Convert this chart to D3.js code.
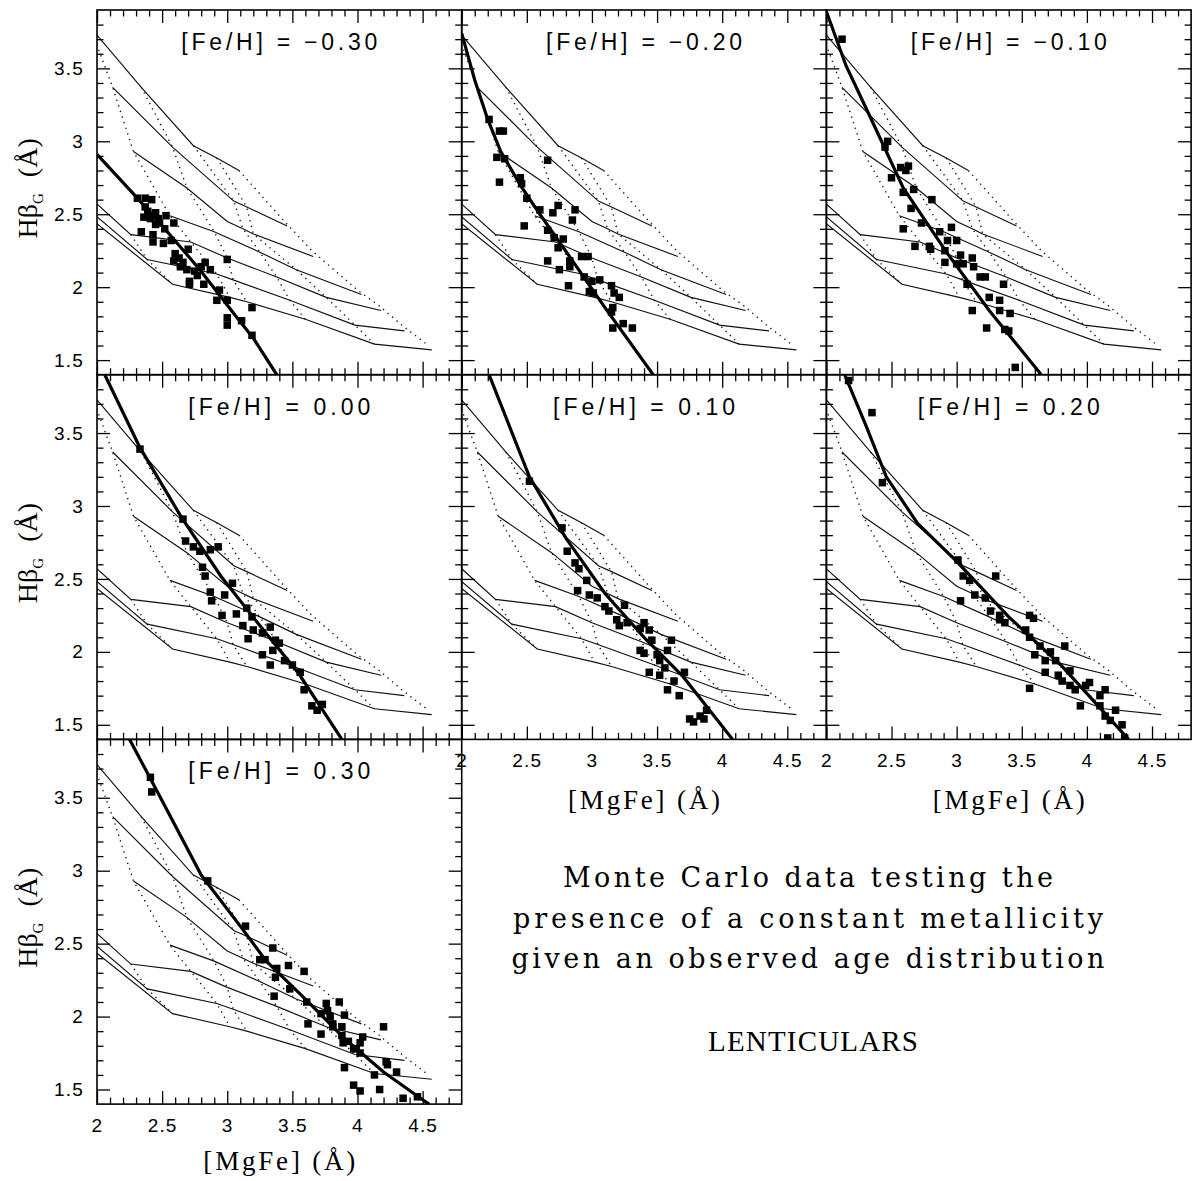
<!DOCTYPE html>
<html><head><meta charset="utf-8">
<script src="https://cdn.jsdelivr.net/npm/d3@7"></script>
<style>body{margin:0;background:#fff}svg{display:block}</style>
</head><body>
<svg id="c" width="1194" height="1181"></svg>
<script>
// ---------------- data ----------------
const fehLabels = ["−0.30","−0.20","−0.10","0.00","0.10","0.20","0.30"];
const xMajor = [2,2.5,3,3.5,4,4.5];
const xTickLabels = ["2","2.5","3","3.5","4","4.5"];
const xMinor = [2.1,2.2,2.3,2.4,2.6,2.7,2.8,2.9,3.1,3.2,3.3,3.4,3.6,3.7,3.8,3.9,4.1,4.2,4.3,4.4,4.6,4.7];
const yMajor = [1.5,2,2.5,3,3.5];
const yTickLabels = ["1.5","2","2.5","3","3.5"];
const yMinor = [1.6,1.7,1.8,1.9,2.1,2.2,2.3,2.4,2.6,2.7,2.8,2.9,3.1,3.2,3.3,3.4,3.6,3.7,3.8];

// model grid: solid lines (constant age)
const solidA = [[1.95,3.78],[2.34,3.37],[2.74,2.97],[2.92,2.885],[3.09,2.80]];
const solidB = [[2.12,3.37],[2.58,2.96],[3.05,2.59],[3.15,2.55],[3.46,2.42]];
const solidC = [[2.28,2.93],[2.69,2.68],[3.0,2.45],[3.12,2.40],[3.2,2.365],[3.66,2.21]];
const solidD = [[2.56,2.49],[2.9,2.38],[3.25,2.24],[3.53,2.12],[4.03,1.95]];
const solidE = [[1.95,2.61],[2.26,2.36],[2.72,2.31],[3.0,2.20],[3.38,2.07],[3.76,1.93],[4.18,1.84]];
const solidF = [[1.95,2.52],[2.385,2.19],[2.92,2.09],[3.045,2.05],[3.48,1.91],[3.98,1.74],[4.36,1.70]];
const solidG = [[1.95,2.47],[2.58,2.02],[3.02,1.93],[3.15,1.90],[3.6,1.78],[4.13,1.61],[4.57,1.57]];
// model grid: dotted lines (constant metallicity)
const dotM0 = [[2.26,2.36],[2.385,2.19],[2.58,2.02]];
const dotM1 = [[1.95,3.78],[2.12,3.37],[2.28,2.93],[2.56,2.49],[2.72,2.31],[2.92,2.09],[3.02,1.93]];
const dotM2 = [[2.34,3.37],[2.58,2.96],[2.69,2.68],[2.9,2.38],[3.0,2.20],[3.045,2.05],[3.15,1.90]];
const dotM3 = [[2.74,2.97],[3.05,2.59],[3.12,2.40],[3.25,2.24],[3.38,2.07],[3.48,1.91],[3.6,1.78]];
const dotM4 = [[2.92,2.885],[3.15,2.55],[3.2,2.365],[3.53,2.12],[3.76,1.93],[3.98,1.74],[4.13,1.61]];
const dotM5 = [[3.09,2.80],[3.44,2.45],[3.65,2.25],[4.00,1.98],[4.17,1.87],[4.34,1.74],[4.53,1.61]];

// thick constant-metallicity tracks
const trackM030 = [[2.0,2.91],[2.28,2.64],[2.53,2.39],[2.79,2.12],[3.05,1.82],[3.2,1.65],[3.38,1.40]];
const trackM020 = [[2.0,3.74],[2.1,3.42],[2.2,3.15],[2.3,2.93],[2.45,2.70],[2.6,2.50],[2.75,2.31],[3.1,1.86],[3.47,1.40]];
const trackM010 = [[2.0,3.89],[2.15,3.52],[2.34,3.16],[2.59,2.68],[2.93,2.23],[3.25,1.84],[3.65,1.40]];
const trackP000 = [[2.06,3.9],[2.33,3.40],[2.65,2.92],[2.95,2.52],[3.25,2.18],[3.55,1.85],[3.88,1.40]];
const trackP010 = [[2.21,3.9],[2.52,3.2],[2.8,2.78],[3.1,2.40],[3.4,2.10],[3.7,1.83],[4.08,1.40]];
const trackP020 = [[2.14,3.9],[2.3,3.56],[2.46,3.2],[2.7,2.88],[3.0,2.62],[3.4,2.24],[3.8,1.91],[4.32,1.40]];
const trackP030 = [[2.25,3.9],[2.5,3.48],[2.8,2.97],[3.1,2.62],[3.3,2.38],[3.6,2.12],[3.9,1.85],[4.2,1.62],[4.5,1.43],[4.55,1.40]];

// Monte Carlo points
const ptsM030 = [[2.31,2.61],[2.37,2.61],[2.42,2.60],[2.37,2.55],[2.39,2.52],[2.45,2.51],[2.36,2.48],[2.41,2.47],[2.47,2.47],[2.53,2.49],[2.45,2.43],[2.52,2.40],[2.59,2.44],[2.34,2.38],[2.43,2.36],[2.43,2.31],[2.51,2.30],[2.57,2.32],[2.60,2.23],[2.59,2.18],[2.70,2.26],[2.66,2.17],[2.69,2.12],[2.75,2.11],[2.80,2.14],[2.83,2.17],[2.87,2.12],[2.71,2.04],[2.71,2.02],[2.82,2.02],[3.00,2.19],[2.94,1.98],[2.92,1.91],[3.00,1.91],[3.00,1.79],[3.00,1.74],[3.11,1.77],[3.19,1.86],[3.19,1.67],[2.48,2.44],[2.63,2.20],[2.77,2.08],[2.64,2.14]];
const ptsM020 = [[2.21,3.15],[2.29,3.07],[2.32,3.07],[2.27,2.89],[2.33,2.88],[2.29,2.72],[2.45,2.75],[2.46,2.71],[2.50,2.61],[2.60,2.53],[2.70,2.51],[2.74,2.56],[2.87,2.53],[2.85,2.46],[2.48,2.42],[2.66,2.39],[2.71,2.34],[2.78,2.33],[2.74,2.27],[2.66,2.18],[2.83,2.18],[2.83,2.14],[2.75,2.12],[2.92,2.21],[2.97,2.21],[2.94,2.07],[3.00,2.04],[3.06,2.05],[2.98,1.97],[3.01,1.96],[3.15,2.01],[2.82,2.01],[3.17,1.96],[3.21,1.93],[3.16,1.86],[3.15,1.83],[3.16,1.72],[3.24,1.75],[3.31,1.72],[2.66,2.87]];
const ptsM010 = [[2.12,3.70],[2.47,3.00],[2.45,2.96],[2.57,2.82],[2.63,2.83],[2.61,2.80],[2.50,2.75],[2.59,2.65],[2.67,2.67],[2.81,2.60],[2.65,2.54],[2.73,2.44],[2.59,2.40],[2.87,2.38],[2.96,2.41],[2.93,2.32],[3.00,2.32],[2.68,2.28],[2.79,2.28],[2.80,2.26],[2.91,2.25],[3.03,2.22],[3.12,2.20],[2.91,2.17],[3.00,2.16],[3.05,2.16],[3.13,2.14],[3.18,2.07],[3.22,2.07],[3.08,2.02],[3.36,2.02],[3.25,1.93],[3.33,1.91],[3.12,1.84],[3.33,1.84],[3.41,1.82],[3.23,1.72],[3.37,1.71],[3.40,1.70],[3.45,1.45]];
const ptsP000 = [[2.33,3.39],[2.66,2.91],[2.68,2.76],[2.74,2.72],[2.79,2.69],[2.81,2.58],[2.87,2.70],[2.93,2.72],[2.83,2.52],[2.87,2.41],[2.88,2.35],[2.98,2.39],[3.04,2.47],[2.96,2.25],[3.07,2.26],[3.12,2.18],[3.16,2.09],[3.20,2.15],[3.15,2.30],[3.19,2.24],[3.27,2.13],[3.33,2.17],[3.27,1.98],[3.35,2.01],[3.40,2.06],[3.44,1.94],[3.50,1.91],[3.56,1.86],[3.59,1.74],[3.65,1.63],[3.69,1.60],[3.73,1.64],[3.37,2.08],[3.33,1.91]];
const ptsP010 = [[2.52,3.17],[2.77,2.85],[2.81,2.69],[2.87,2.61],[2.90,2.57],[2.96,2.49],[2.89,2.42],[2.98,2.39],[3.04,2.37],[3.10,2.31],[3.13,2.28],[3.19,2.22],[3.21,2.18],[3.27,2.20],[3.25,2.32],[3.37,2.16],[3.40,2.20],[3.44,2.15],[3.46,2.08],[3.37,2.01],[3.40,1.99],[3.50,1.98],[3.52,1.94],[3.56,1.89],[3.58,2.01],[3.61,2.08],[3.44,1.86],[3.52,1.84],[3.63,1.80],[3.58,1.74],[3.67,1.70],[3.71,1.86],[3.75,1.54],[3.78,1.52],[3.83,1.56],[3.86,1.54],[3.88,1.60]];
const ptsP020 = [[2.17,3.86],[2.35,3.64],[2.43,3.16],[3.01,2.63],[3.05,2.52],[3.10,2.49],[3.03,2.35],[3.22,2.37],[3.14,2.39],[3.26,2.28],[3.33,2.25],[3.33,2.22],[3.37,2.20],[3.56,2.25],[3.59,2.23],[3.53,2.15],[3.56,2.10],[3.64,2.04],[3.60,1.98],[3.68,1.94],[3.72,2.00],[3.76,1.94],[3.68,1.86],[3.78,1.84],[3.81,1.80],[3.87,1.77],[3.91,1.74],[3.99,1.77],[4.02,1.79],[4.10,1.70],[4.14,1.74],[4.10,1.63],[4.14,1.56],[4.22,1.60],[4.18,1.53],[4.27,1.50],[4.16,1.41],[4.29,1.41],[3.95,1.63],[3.56,1.75],[3.87,1.87],[3.83,2.04],[3.30,2.52]];
const ptsP030 = [[2.41,3.64],[2.42,3.54],[2.85,2.93],[3.14,2.62],[3.35,2.47],[3.25,2.39],[3.29,2.39],[3.38,2.33],[3.37,2.27],[3.47,2.35],[3.48,2.19],[3.59,2.31],[3.36,2.14],[3.61,2.10],[3.62,1.95],[3.72,2.02],[3.76,2.09],[3.77,2.04],[3.86,2.10],[3.79,2.00],[3.81,1.95],[3.90,2.01],[3.81,1.93],[3.88,1.93],[3.72,1.88],[3.88,1.87],[3.89,1.82],[3.93,1.83],[3.97,1.78],[4.04,1.86],[4.02,1.82],[3.99,1.78],[4.02,1.75],[3.90,1.65],[3.97,1.53],[4.02,1.49],[4.13,1.60],[4.20,1.93],[4.17,1.50],[4.22,1.69],[4.23,1.67],[4.30,1.62],[4.35,1.44],[4.46,1.45]];

// ---------------- drawing ----------------
const svg = d3.select('#c');
const PW = 364.7, PH = 364.7, LX = 97, TY = 10;
const x = d3.scaleLinear().domain([2, 4.8]).range([0, PW]);
const y = d3.scaleLinear().domain([1.4, 3.9]).range([PH, 0]);
const line = d3.line().x(d => x(d[0])).y(d => y(d[1]));

const solids = [solidA, solidB, solidC, solidD, solidE, solidF, solidG];
const dotteds = [dotM0, dotM1, dotM2, dotM3, dotM4, dotM5];
const tracks = [trackM030, trackM020, trackM010, trackP000, trackP010, trackP020, trackP030];
const points = [ptsM030, ptsM020, ptsM010, ptsP000, ptsP010, ptsP020, ptsP030];
const cells = [[0,0],[1,0],[2,0],[0,1],[1,1],[2,1],[0,2]];
const xLabelPanels = [6, 4, 5];
const SANS = "'Liberation Sans', Arial, sans-serif";
const SERIF = "'Liberation Serif', 'Times New Roman', serif";
const WSERIF = "'DejaVu Serif', 'Liberation Serif', serif";

const defs = svg.append('defs');

cells.forEach(([col, row], i) => {
  const ox = LX + col * PW, oy = TY + row * PH;
  const g = svg.append('g').attr('transform', `translate(${ox},${oy})`);
  defs.append('clipPath').attr('id', 'clip' + i)
    .append('rect').attr('width', PW).attr('height', PH);
  const inner = g.append('g').attr('clip-path', `url(#clip${i})`);

  inner.selectAll('path.solid').data(solids).join('path')
    .attr('d', line).attr('fill', 'none').attr('stroke', '#111').attr('stroke-width', 1.15);
  inner.selectAll('path.dot').data(dotteds).join('path')
    .attr('d', line).attr('fill', 'none').attr('stroke', '#111')
    .attr('stroke-width', 1.4).attr('stroke-dasharray', '1.3 4.6');
  inner.append('path').datum(tracks[i]).attr('d', line)
    .attr('fill', 'none').attr('stroke', '#000').attr('stroke-width', 3.2);
  const s = 7.5;
  inner.selectAll('rect.pt').data(points[i]).join('rect')
    .attr('x', d => x(d[0]) - s / 2).attr('y', d => y(d[1]) - s / 2)
    .attr('width', s).attr('height', s).attr('fill', '#000');

  // ticks on all four sides, pointing inward
  const tk = (axis, vals, len) => axis.tickValues(vals).tickSize(len).tickFormat('');
  const addAxis = (axis, tr) => {
    const a = g.append('g').attr('transform', tr).call(axis);
    a.select('.domain').remove();
    a.selectAll('line').attr('stroke', '#000').attr('stroke-width', 1.3);
  };
  addAxis(tk(d3.axisBottom(x), xMinor, -6.5), `translate(0,${PH})`);
  addAxis(tk(d3.axisBottom(x), xMajor, -13), `translate(0,${PH})`);
  addAxis(tk(d3.axisTop(x), xMinor, -6.5), 'translate(0,0)');
  addAxis(tk(d3.axisTop(x), xMajor, -13), 'translate(0,0)');
  addAxis(tk(d3.axisLeft(y), yMinor, -6.5), 'translate(0,0)');
  addAxis(tk(d3.axisLeft(y), yMajor, -13), 'translate(0,0)');
  addAxis(tk(d3.axisRight(y), yMinor, -6.5), `translate(${PW},0)`);
  addAxis(tk(d3.axisRight(y), yMajor, -13), `translate(${PW},0)`);

  g.append('rect').attr('width', PW).attr('height', PH)
    .attr('fill', 'none').attr('stroke', '#000').attr('stroke-width', 1.6);

  // title
  const title = '[Fe/H] = ' + fehLabels[i];
  g.append('text').attr('x', PW / 2).attr('y', 40).attr('text-anchor', 'middle')
    .attr('font-family', SANS).attr('font-size', 23)
    .attr('textLength', title.length * 14).attr('lengthAdjust', 'spacing')
    .text(title);

  // x tick labels
  if (xLabelPanels.includes(i)) {
    const a = g.append('g').attr('transform', `translate(0,${PH})`)
      .call(d3.axisBottom(x).tickValues(xMajor).tickSize(0).tickPadding(14)
        .tickFormat((d, k) => xTickLabels[k]));
    a.select('.domain').remove();
    a.selectAll('text').attr('font-family', SANS).attr('font-size', 19)
      .attr('letter-spacing', '1.2px').attr('fill', '#000');
    g.append('text').attr('x', PW / 2).attr('y', PH + (row === 2 ? 66 : 70))
      .attr('text-anchor', 'middle').attr('font-family', SERIF).attr('font-size', 27)
      .attr('textLength', 152).attr('lengthAdjust', 'spacing')
      .text('[MgFe] (Å)');
  }
  // y tick labels + y label
  if (col === 0) {
    const a = g.append('g')
      .call(d3.axisLeft(y).tickValues(yMajor).tickSize(0).tickPadding(13)
        .tickFormat((d, k) => yTickLabels[k]));
    a.select('.domain').remove();
    a.selectAll('text').attr('font-family', SANS).attr('font-size', 19)
      .attr('letter-spacing', '1.2px').attr('fill', '#000');
    const yl = g.append('text')
      .attr('transform', `translate(-60,${PH / 2 - 4}) rotate(-90)`)
      .attr('text-anchor', 'middle').attr('font-family', SERIF).attr('font-size', 28);
    yl.append('tspan').text('Hβ');
    yl.append('tspan').attr('font-size', 15).attr('dy', 6).text('G');
    yl.append('tspan').attr('dy', -6).attr('dx', 16).text('(Å)');
  }
});

// side text
const noteLines = ["Monte Carlo data testing the", "presence of a constant metallicity", "given an observed age distribution"];
const noteWidths = [490, 590, 593];
const noteY = [887, 928, 968];
noteLines.forEach((t, k) => {
  svg.append('text').attr('x', 808).attr('y', noteY[k]).attr('text-anchor', 'middle')
    .attr('font-family', WSERIF).attr('font-size', 27).attr('font-weight', 300)
    .attr('textLength', noteWidths[k]).attr('lengthAdjust', 'spacing').text(t);
});
svg.append('text').attr('x', 813).attr('y', 1051).attr('text-anchor', 'middle')
  .attr('font-family', SERIF).attr('font-size', 29)
  .attr('textLength', 210).attr('lengthAdjust', 'spacing').text('LENTICULARS');
</script>
</body></html>
